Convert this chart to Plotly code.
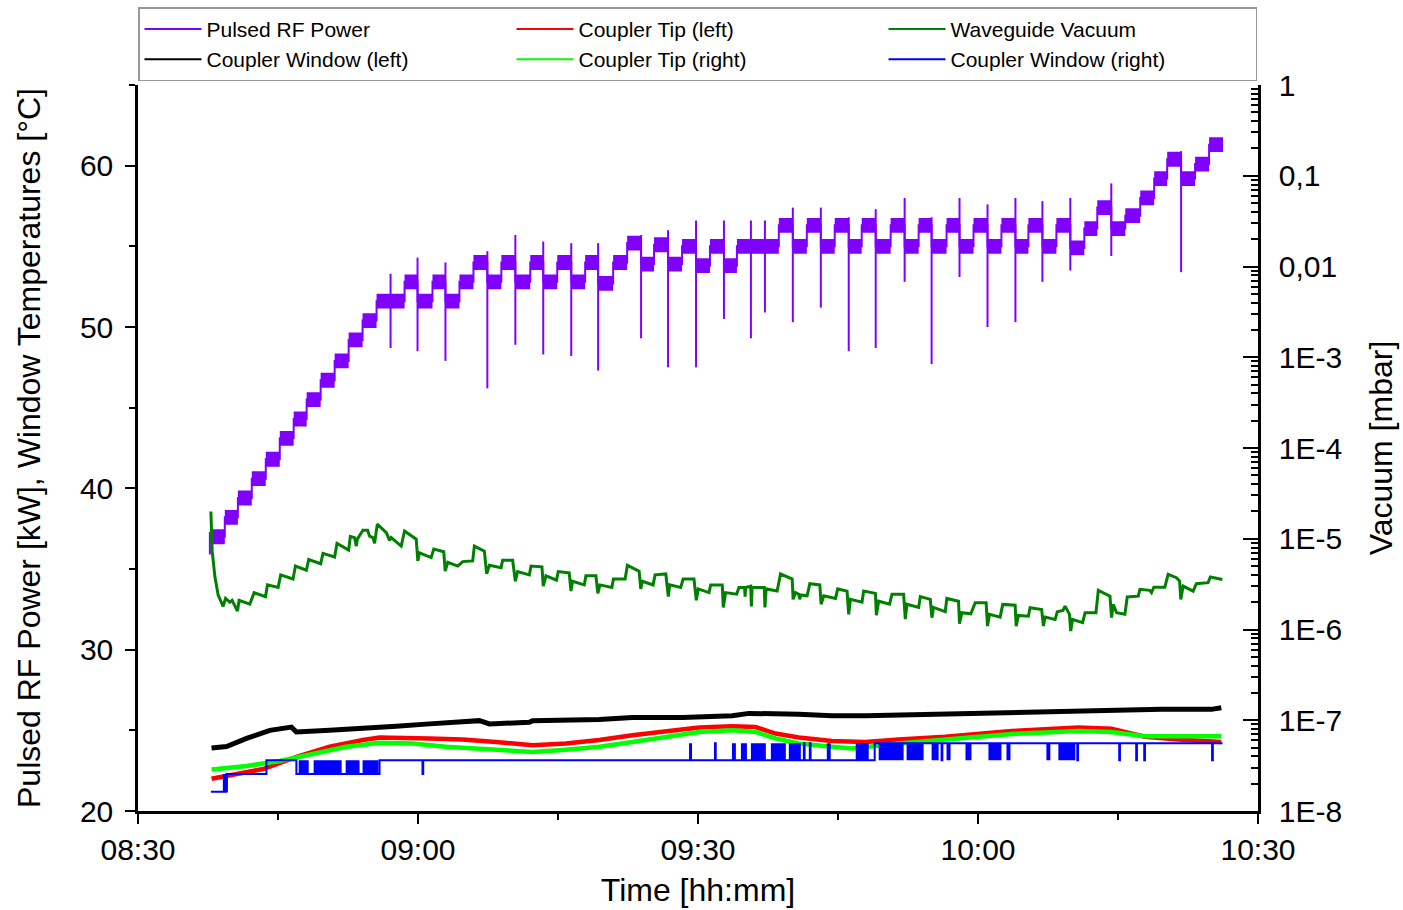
import plotly.graph_objects as go
from datetime import datetime, timedelta

# ---------------- data (times in minutes after 08:30) ----------------
power_step_start = [7.70, 9.30, 10.70, 12.19, 13.69, 15.19, 16.68, 18.07, 19.57, 21.07,
                    22.57, 24.06, 25.56, 28.56, 29.95, 31.55, 32.94, 34.44, 35.94, 37.43,
                    38.93, 40.43, 42.03, 43.42, 44.92, 46.42, 47.91, 49.30, 50.91, 52.41,
                    53.90, 55.29, 56.79, 58.29, 59.79, 61.28, 62.78, 64.17, 68.66, 70.16,
                    71.66, 73.16, 74.65, 76.15, 77.54, 79.04, 80.64, 82.14, 83.64, 85.03,
                    86.63, 88.02, 89.52, 91.02, 92.51, 94.01, 95.40, 96.90, 98.40, 99.89,
                    101.39, 102.78, 104.28, 105.78, 107.38, 108.88, 110.27, 111.76, 113.26, 114.76]
power_end = 116.26
power_level = [37.0, 38.2, 39.4, 40.6, 41.8, 43.1, 44.3, 45.5, 46.7, 47.9,
               49.2, 50.4, 51.6, 52.8, 51.6, 52.8, 51.6, 52.8, 54.0, 52.8,
               54.0, 52.8, 54.0, 52.8, 54.0, 52.8, 54.0, 52.7, 54.0, 55.2,
               53.9, 55.1, 53.9, 55.0, 53.8, 55.0, 53.8, 55.0, 56.3, 55.0,
               56.3, 55.0, 56.3, 55.0, 56.3, 55.0, 56.3, 55.0, 56.3, 55.0,
               56.3, 55.0, 56.3, 55.0, 56.3, 55.0, 56.3, 55.0, 56.3, 54.9,
               56.1, 57.4, 56.1, 56.9, 58.0, 59.2, 60.4, 59.2, 60.1, 61.3]

spike_t = [7.70, 27.06, 29.95, 32.94, 37.43, 40.43, 43.42, 46.42, 49.30, 53.90,
           56.79, 59.79, 62.78, 65.67, 67.17, 70.16, 73.16, 76.15, 79.04, 82.14,
           85.03, 88.02, 91.02, 94.01, 96.90, 99.89, 104.28, 111.76]
spike_hi = [37.3, 53.3, 54.3, 54.0, 54.7, 55.7, 55.3, 55.2, 55.2, 55.7,
            56.0, 56.6, 56.6, 56.6, 56.6, 57.4, 57.4, 56.8, 57.3, 58.0,
            56.8, 58.0, 57.6, 58.0, 57.8, 58.0, 58.9, 60.9]
spike_lo = [35.9, 48.7, 48.5, 47.9, 46.2, 48.9, 48.3, 48.2, 47.3, 49.3,
            47.5, 47.5, 50.5, 49.3, 50.9, 50.3, 51.2, 48.5, 48.7, 52.8,
            47.7, 53.1, 50.0, 50.3, 52.8, 53.5, 54.4, 53.4]

vac_t = [7.81, 7.95, 8.24, 8.59, 9.12, 9.38, 9.84, 10.08, 10.66, 10.83,
         11.98, 12.44, 13.66, 13.87, 15.01, 15.29, 16.61, 16.87, 18.04, 18.29,
         19.57, 19.82, 21.07, 21.32, 22.57, 22.75, 23.20, 23.39, 23.50, 24.10,
         24.60, 24.81, 25.17, 25.35, 25.64, 26.06, 26.60, 26.77, 26.95, 27.13,
         28.20, 28.56, 29.27, 29.81, 29.98, 30.16, 31.41, 31.69, 32.76, 32.91,
         33.19, 34.26, 34.79, 35.86, 36.04, 37.11, 37.36, 37.65, 38.90, 39.07,
         40.14, 40.43, 40.67, 41.93, 42.11, 43.28, 43.42, 43.71, 44.84, 45.03,
         46.20, 46.39, 46.56, 47.81, 47.99, 49.06, 49.27, 49.49, 50.77, 50.94,
         52.19, 52.44, 53.69, 53.87, 54.04, 55.19, 55.40, 56.55, 56.82, 56.97,
         58.15, 58.40, 59.57, 59.82, 60.03, 61.18, 61.36, 62.60, 62.71, 62.96,
         64.14, 64.39, 64.99, 65.05, 65.10, 65.65, 65.72, 65.80, 67.10, 67.17,
         67.30, 68.48, 68.84, 70.09, 70.19, 70.45, 70.80, 70.90, 71.00, 71.69,
         71.98, 73.05, 73.19, 73.48, 74.73, 74.97, 75.97, 76.15, 76.33, 77.57,
         77.75, 79.01, 79.11, 79.36, 80.53, 80.78, 82.03, 82.21, 82.39, 83.64,
         83.82, 84.89, 85.06, 85.24, 86.49, 86.66, 87.91, 88.02, 88.27, 89.23,
         89.70, 90.87, 91.02, 91.23, 92.37, 92.65, 93.98, 94.09, 94.33, 95.40,
         95.58, 96.82, 97.01, 97.19, 98.26, 98.50, 99.10, 99.33, 99.80, 99.93,
         100.14, 101.21, 101.47, 102.64, 102.89, 103.60, 104.14, 104.31, 104.49, 104.85,
         105.74, 105.99, 107.17, 107.35, 108.40, 108.59, 108.84, 110.02, 110.37, 111.26,
         111.60, 111.73, 111.98, 113.05, 113.40, 114.65, 114.90, 116.18]
vac_p = [2.0e-5, 7.3e-6, 3.8e-6, 2.4e-6, 1.8e-6, 2.2e-6, 2.0e-6, 2.1e-6, 1.6e-6, 2.1e-6,
         1.9e-6, 2.55e-6, 2.3e-6, 3.1e-6, 2.9e-6, 4.0e-6, 3.6e-6, 5.0e-6, 4.5e-6, 5.9e-6,
         5.3e-6, 6.9e-6, 6.3e-6, 8.9e-6, 7.5e-6, 1.06e-5, 1.03e-5, 8.3e-6, 9.9e-6, 1.24e-5,
         1.24e-5, 1.07e-5, 1.03e-5, 8.9e-6, 1.45e-5, 1.33e-5, 1.17e-5, 1.07e-5, 9.6e-6, 1.03e-5,
         8.3e-6, 1.22e-5, 1.07e-5, 9.9e-6, 5.7e-6, 7.0e-6, 6.2e-6, 7.7e-6, 7.2e-6, 4.4e-6,
         5.5e-6, 5.0e-6, 5.6e-6, 5.7e-6, 8.3e-6, 7.3e-6, 4.1e-6, 5.1e-6, 4.8e-6, 5.8e-6,
         5.8e-6, 3.4e-6, 4.35e-6, 4.0e-6, 5.0e-6, 4.9e-6, 3.0e-6, 3.9e-6, 3.5e-6, 4.35e-6,
         4.2e-6, 2.65e-6, 3.4e-6, 3.1e-6, 3.9e-6, 3.9e-6, 2.5e-6, 3.1e-6, 2.9e-6, 3.6e-6,
         3.6e-6, 5.1e-6, 4.4e-6, 2.8e-6, 3.4e-6, 3.1e-6, 4.0e-6, 4.1e-6, 2.3e-6, 3.1e-6,
         2.9e-6, 3.6e-6, 3.6e-6, 2.1e-6, 2.8e-6, 2.55e-6, 3.1e-6, 3.1e-6, 1.75e-6, 2.55e-6,
         2.45e-6, 2.9e-6, 2.9e-6, 2.3e-6, 2.9e-6, 3.0e-6, 1.8e-6, 2.9e-6, 2.9e-6, 1.75e-6,
         2.8e-6, 2.65e-6, 4.1e-6, 3.6e-6, 2.15e-6, 2.55e-6, 2.45e-6, 2.15e-6, 2.4e-6, 2.35e-6,
         3.2e-6, 3.1e-6, 1.9e-6, 2.35e-6, 2.2e-6, 2.8e-6, 2.65e-6, 1.47e-6, 2.15e-6, 2.0e-6,
         2.65e-6, 2.5e-6, 1.44e-6, 2.05e-6, 1.9e-6, 2.45e-6, 2.45e-6, 1.3e-6, 1.9e-6, 1.75e-6,
         2.3e-6, 2.15e-6, 1.35e-6, 1.75e-6, 1.57e-6, 2.2e-6, 2.05e-6, 1.16e-6, 1.53e-6, 1.49e-6,
         1.97e-6, 1.97e-6, 1.09e-6, 1.47e-6, 1.37e-6, 1.89e-6, 1.85e-6, 1.09e-6, 1.43e-6, 1.40e-6,
         1.74e-6, 1.66e-6, 1.09e-6, 1.37e-6, 1.29e-6, 1.57e-6, 1.62e-6, 1.81e-6, 1.47e-6, 9.6e-7,
         1.29e-6, 1.19e-6, 1.53e-6, 1.53e-6, 2.7e-6, 2.48e-6, 2.33e-6, 1.35e-6, 1.89e-6, 1.53e-6,
         1.47e-6, 2.28e-6, 2.33e-6, 2.77e-6, 2.7e-6, 2.55e-6, 2.93e-6, 2.93e-6, 4.06e-6, 3.72e-6,
         3.42e-6, 2.14e-6, 3.01e-6, 2.65e-6, 3.2e-6, 3.28e-6, 3.79e-6, 3.56e-6]

win_left_t = [7.88, 9.49, 11.63, 14.12, 16.44, 16.97, 20.53, 24.10, 27.67, 31.23,
              34.79, 36.58, 37.65, 41.93, 42.28, 49.41, 52.97, 58.32, 63.67, 65.45,
              70.80, 74.36, 77.94, 81.50, 90.05, 97.19, 104.31, 109.66, 115.00, 116.07]
win_left_v = [23.9, 24.0, 24.5, 25.0, 25.2, 24.9, 25.0, 25.1, 25.26, 25.4,
              25.58, 25.6, 25.4, 25.5, 25.6, 25.67, 25.8, 25.8, 25.9, 26.05,
              26.0, 25.9, 25.9, 25.95, 26.0, 26.14, 26.25, 26.3, 26.3, 26.4]

tip_left_t = [7.88, 9.84, 13.40, 16.97, 20.53, 24.10, 25.88, 31.23, 34.79, 38.36,
              41.93, 42.28, 45.85, 49.41, 52.97, 56.54, 60.11, 63.67, 66.17, 68.31,
              70.80, 74.36, 77.94, 81.50, 86.49, 93.61, 100.75, 104.31, 107.88, 111.44, 116.07]
tip_left_v = [22.0, 22.2, 22.6, 23.35, 23.98, 24.4, 24.55, 24.5, 24.43, 24.28,
              24.15, 24.08, 24.18, 24.4, 24.7, 24.96, 25.17, 25.26, 25.2, 24.8,
              24.55, 24.34, 24.28, 24.43, 24.6, 24.96, 25.17, 25.1, 24.6, 24.43, 24.28]

tip_right_t = [7.88, 11.63, 15.19, 18.75, 22.32, 25.88, 29.44, 33.02, 38.36, 42.28,
               45.85, 49.41, 52.97, 56.54, 60.11, 63.67, 66.17, 68.31, 70.80, 74.36,
               76.50, 81.50, 86.49, 93.61, 100.75, 104.31, 107.88, 111.44, 116.07]
tip_right_v = [22.57, 22.79, 23.1, 23.56, 23.98, 24.23, 24.18, 23.98, 23.8, 23.66,
               23.8, 23.98, 24.28, 24.6, 24.9, 25.0, 24.9, 24.5, 24.18, 23.98,
               23.87, 24.18, 24.4, 24.77, 24.96, 24.9, 24.64, 24.64, 24.64]

win_right_t = [7.81, 9.48, 13.76, 16.97, 25.88, 30.48, 30.56, 61.82, 61.90, 71.34,
               71.42, 71.98, 72.06, 78.93, 86.10, 86.18, 100.64, 100.72, 105.13, 105.21,
               106.95, 107.03, 107.81, 107.89, 115.08, 115.16, 116.20]
win_right_v = [21.2, 22.3, 23.15, 22.3, 23.15, 22.3, 23.15, 24.2, 23.15, 24.2,
               23.15, 24.2, 23.15, 24.2, 23.15, 24.2, 23.15, 24.2, 23.15, 24.2,
               23.15, 24.2, 23.15, 24.2, 23.15, 24.2, 24.2]
# intervals where the right-window reading toggles rapidly between two levels
toggle_start = [9.09, 17.22, 18.82, 22.25, 24.06, 59.04, 63.64, 64.60, 65.67, 67.81,
                69.73, 73.80, 76.90, 79.36, 82.35, 85.03, 86.63, 88.66, 91.12, 93.05,
                97.33, 98.61]
toggle_end = [9.63, 18.29, 21.82, 23.74, 25.78, 59.36, 64.06, 65.24, 67.27, 69.41,
              71.02, 74.22, 78.29, 82.03, 84.17, 85.78, 87.06, 89.30, 92.51, 93.48,
              97.75, 100.43]
toggle_low = [21.2, 22.3, 22.3, 22.3, 22.3, 23.15, 23.15, 23.15, 23.15, 23.15,
              23.15, 23.15, 23.15, 23.15, 23.15, 23.15, 23.15, 23.15, 23.15, 23.15,
              23.15, 23.15]
toggle_high = [22.3, 23.15, 23.15, 23.15, 23.15, 24.2, 24.2, 24.2, 24.2, 24.2,
               24.2, 24.2, 24.2, 24.2, 24.2, 24.2, 24.2, 24.2, 24.2, 24.2,
               24.2, 24.2]

vac_tickvals = [1e-8, 1e-7, 1e-6, 1e-5, 1e-4, 1e-3, 1e-2, 1e-1, 1]
vac_ticktext = ["1E-8", "1E-7", "1E-6", "1E-5", "1E-4", "1E-3", "0,01", "0,1", "1"]

legend_names = ["Pulsed RF Power", "Coupler Tip (left)", "Waveguide Vacuum",
                "Coupler Window (left)", "Coupler Tip (right)", "Coupler Window (right)"]

# ---------------- styles ----------------
PURPLE = "#8000FF"
RED = "#FF0000"
DKGREEN = "#008000"
BLACK = "#000000"
LIME = "#00FF00"
BLUE = "#0000FF"
legend_colors = [PURPLE, RED, DKGREEN, BLACK, LIME, BLUE]
FONT = "Liberation Sans, Arial, sans-serif"
BAND_HALF = 0.46  # half thickness of the rapidly-pulsing power band (kW)

START = datetime(2020, 1, 1, 8, 30)


def clock(mins):
    return [None if m is None else START + timedelta(minutes=m) for m in mins]


fig = go.Figure()

# Pulsed RF power: band + centre line + spikes
step_x = power_step_start + [power_end]
step_y = power_level + [power_level[-1]]
fig.add_trace(go.Scatter(x=clock(step_x), y=[v - BAND_HALF for v in step_y], mode="lines",
                         line=dict(shape="hv", width=0, color=PURPLE), showlegend=False,
                         hoverinfo="skip"))
fig.add_trace(go.Scatter(x=clock(step_x), y=[v + BAND_HALF for v in step_y], mode="lines",
                         line=dict(shape="hv", width=0, color=PURPLE), fill="tonexty",
                         fillcolor=PURPLE, showlegend=False, hoverinfo="skip"))
fig.add_trace(go.Scatter(x=clock(step_x), y=step_y, mode="lines",
                         line=dict(shape="hv", width=2, color=PURPLE), showlegend=False))
sx, sy = [], []
for t, hi, lo in zip(spike_t, spike_hi, spike_lo):
    sx += [t, t, None]
    sy += [lo, hi, None]
fig.add_trace(go.Scatter(x=clock(sx), y=sy, mode="lines", line=dict(width=2, color=PURPLE),
                         showlegend=False, connectgaps=False))

# temperatures
fig.add_trace(go.Scatter(x=clock(win_left_t), y=win_left_v, mode="lines",
                         line=dict(color=BLACK, width=5), showlegend=False))
fig.add_trace(go.Scatter(x=clock(tip_left_t), y=tip_left_v, mode="lines",
                         line=dict(color=RED, width=4.5), showlegend=False))
fig.add_trace(go.Scatter(x=clock(tip_right_t), y=tip_right_v, mode="lines",
                         line=dict(color=LIME, width=4.5), showlegend=False))

bx, by = [], []
for t0, t1, lo, hi in zip(toggle_start, toggle_end, toggle_low, toggle_high):
    bx += [t0, t1, t1, t0, t0, None]
    by += [lo, lo, hi, hi, lo, None]
fig.add_trace(go.Scatter(x=clock(bx), y=by, mode="lines", fill="toself",
                         line=dict(width=0, color=BLUE), fillcolor=BLUE,
                         showlegend=False, hoverinfo="skip"))
fig.add_trace(go.Scatter(x=clock(win_right_t), y=win_right_v, mode="lines",
                         line=dict(color=BLUE, width=2, shape="hv"), showlegend=False))

# vacuum on the right log axis
fig.add_trace(go.Scatter(x=clock(vac_t), y=vac_p, mode="lines", yaxis="y2",
                         line=dict(color=DKGREEN, width=3), showlegend=False))

# legend entries
for rank, (name, col) in enumerate(zip(legend_names, legend_colors)):
    fig.add_trace(go.Scatter(x=[None], y=[None], mode="lines", name=name,
                             line=dict(color=col, width=2), legendrank=rank + 1))

x0 = START
x1 = START + timedelta(minutes=120)
minor_vals = [k * 10.0 ** e for e in range(-8, 0) for k in range(2, 10)]

axis_common = dict(showline=True, linecolor="black", linewidth=2.5, showgrid=False,
                   zeroline=False, mirror=False)

fig.update_layout(
    width=1403, height=910,
    margin=dict(l=138, r=145, t=85, b=99, autoexpand=False),
    paper_bgcolor="white", plot_bgcolor="white",
    font=dict(family=FONT, color="black"),
    xaxis=dict(type="date", range=[x0, x1], tickformat="%H:%M", tick0=x0, dtick=30 * 60000,
               ticks="outside", ticklen=10, tickwidth=2, tickcolor="black",
               minor=dict(dtick=15 * 60000, tick0=x0, ticks="outside", ticklen=6,
                          tickwidth=2, tickcolor="black", showgrid=False),
               tickfont=dict(size=30), ticklabelstandoff=0,
               title=dict(text="Time [hh:mm]", font=dict(size=32), standoff=14),
               automargin=False, **axis_common),
    xaxis2=dict(type="date", range=[x0, x1], overlaying="x", side="top", anchor="y",
                tick0=x0, dtick=30 * 60000, ticks="inside", ticklen=14, tickwidth=2,
                tickcolor="black", showticklabels=False,
                minor=dict(dtick=15 * 60000, tick0=x0, ticks="inside", ticklen=8,
                           tickwidth=2, tickcolor="black", showgrid=False),
                automargin=False, **axis_common),
    yaxis=dict(range=[20, 65], tick0=20, dtick=10, ticks="outside", ticklen=10, tickwidth=2,
               tickcolor="black",
               minor=dict(dtick=5, tick0=20, ticks="outside", ticklen=6, tickwidth=2,
                          tickcolor="black", showgrid=False),
               tickfont=dict(size=30), ticklabelstandoff=6,
               title=dict(text="Pulsed RF Power [kW], Window Temperatures [°C]",
                          font=dict(size=32), standoff=30),
               automargin=False, **axis_common),
    yaxis2=dict(type="log", range=[-8, 0], overlaying="y", side="right", anchor="x",
                tickmode="array", tickvals=vac_tickvals, ticktext=vac_ticktext,
                ticks="inside", ticklen=15, tickwidth=2, tickcolor="black",
                minor=dict(tickmode="array", tickvals=minor_vals, ticks="inside", ticklen=7,
                           tickwidth=1.5, tickcolor="black", showgrid=False),
                tickfont=dict(size=30), ticklabelstandoff=12,
                title=dict(text="Vacuum [mbar]", font=dict(size=32), standoff=29),
                automargin=False, **axis_common),
    legend=dict(orientation="h", x=0, xanchor="left", y=1.107, yanchor="top",
                bordercolor="#999999", borderwidth=1.5, bgcolor="white",
                entrywidth=300, entrywidthmode="pixels", font=dict(size=21),
                traceorder="normal", itemwidth=57),
    showlegend=True,
)

fig.write_html("out.html")
